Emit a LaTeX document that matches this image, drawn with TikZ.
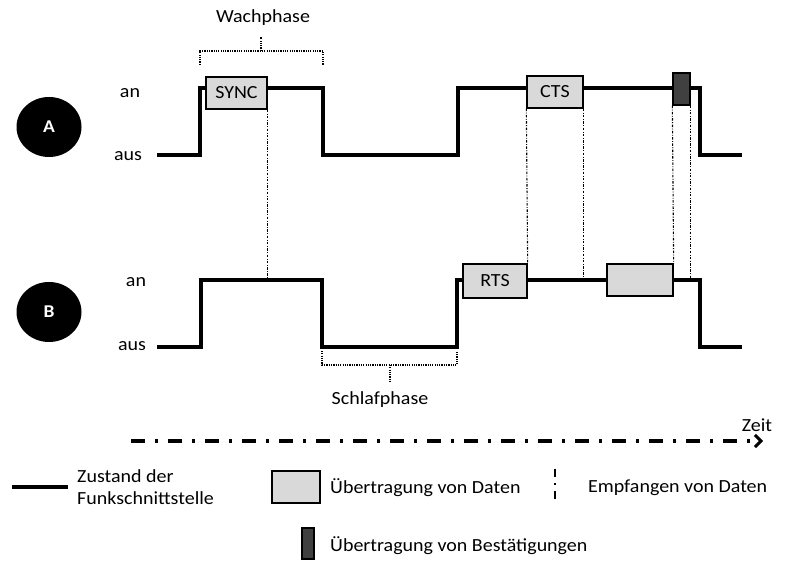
\documentclass[tikz,border=0pt]{standalone}
\usepackage{fontspec}
\setmainfont{Carlito}[FakeStretch=1.08]
\usetikzlibrary{arrows.meta,shapes.geometric}
\definecolor{datagray}{HTML}{D9D9D9}
\definecolor{ackgray}{HTML}{404040}
\tikzset{
  sig/.style={line width=4pt, line join=miter},
  databox/.style={draw=black, line width=1.3pt, fill=datagray, minimum height=32pt, inner sep=0pt, font=\fontsize{18.5}{22}\selectfont},
  ackbox/.style={draw=black, line width=1.3pt, fill=ackgray, minimum width=17pt, minimum height=32pt, inner sep=0pt},
  recv/.style={line width=1.1pt, black, dash pattern=on 2.5pt off 1.5pt on 0.8pt off 1.5pt},
  brace/.style={line width=1.8pt, dash pattern=on 1.2pt off 1.1pt},
  lbl/.style={font=\fontsize{18.5}{22}\selectfont, inner sep=0pt},
  station/.style={ellipse, fill=black, text=white, minimum width=65pt, minimum height=60pt, inner sep=0pt, font=\fontsize{18}{20}\selectfont\bfseries},
}
\begin{document}
\begin{tikzpicture}[x=1pt,y=-1pt]
\useasboundingbox (0,0) rectangle (788,561);
% stations
\node[station] (A) at (49,127) {A};
\node[station] (B) at (49,312) {B};
% state labels
\node[lbl] (Aan) at (130,93) {an};
\node[lbl] (Aaus) at (128,156) {aus};
\node[lbl] (Ban) at (136,282) {an};
\node[lbl] (Baus) at (132,346) {aus};
% reference levels
\coordinate (Bhi) at (0,280);
% signals
\draw[sig] (157,155) -- (200,155) -- (200,88) -- (323,88) -- (323,155) -- (458,155) -- (458,88) -- (700,88) -- (700,155) -- (742,155);
\draw[sig] (157,347) -- (201,347) -- (201,280) -- (322,280) -- (322,347) -- (457,347) -- (457,280) -- (700,280) -- (700,347) -- (742,347);
% boxes
\node[databox, minimum width=61pt] (sync) at (236.5,93) {SYNC};
\node[databox, minimum width=56pt] (cts) at (555,92) {CTS};
\node[ackbox] (ack) at (681.5,89) {};
\node[databox, minimum width=64pt, minimum height=34pt] (rts) at (495,281) {RTS};
\node[databox, minimum width=66pt] (bdata) at (640,280) {};
% receive lines
\draw[recv] (sync.south east) -- (sync.south east |- Bhi);
\draw[recv] (cts.south west) -- (rts.north east);
\draw[recv] (cts.south east) -- (cts.south east |- Bhi);
\draw[recv] (ack.south west) -- (bdata.north east);
\draw[recv] (ack.south east) -- (ack.south east |- Bhi);
% Wachphase bracket
\draw[brace] (200,65) -- (200,51) -- (323,51) -- (323,65);
\coordinate (wtick) at (261,37);
\draw[brace] (261,51) -- (wtick);
\node[lbl] (wach) at (263,18) {Wachphase};
% Schlafphase bracket
\draw[brace] (322,351) -- (322,365) -- (457,365) -- (457,351);
\coordinate (stick) at (390,382);
\draw[brace] (390,365) -- (stick);
\node[lbl] (schlaf) at (380,400) {Schlafphase};
% time axis
\coordinate (t0) at (131,441);
\coordinate (t1) at (763,441);
\draw[line width=4pt, dash pattern=on 14pt off 10pt on 2.5pt off 10.5pt, -{Straight Barb[length=6pt,width=12pt,line width=3pt]}] (t0) -- (t1);
\node[lbl] (zeit) at (757,425) {Zeit};
% legend
\coordinate (l0) at (12,487);
\coordinate (l1) at (68,487);
\draw[line width=4pt] (l0) -- (l1);
\node[lbl, anchor=west, align=left] (lzust) at (77,487.5) {Zustand der\\Funkschnittstelle};
\node[databox, minimum width=48pt] (ldata) at (296,487) {};
\node[lbl, anchor=west] (ltxt1) at (330,488) {Übertragung von Daten};
\coordinate (d0) at (555,469);
\coordinate (d1) at (555,503);
\draw[line width=1.8pt, dash pattern=on 8pt off 6pt on 2.5pt off 6pt] (d0) -- (d1);
\node[lbl, anchor=west] (ltxt2) at (588,488) {Empfangen von Daten};
\node[ackbox, minimum width=12pt, minimum height=31pt] (lack) at (308,543.5) {};
\node[lbl, anchor=west] (ltxt3) at (330,546) {Übertragung von Bestätigungen};
\end{tikzpicture}
\end{document}
